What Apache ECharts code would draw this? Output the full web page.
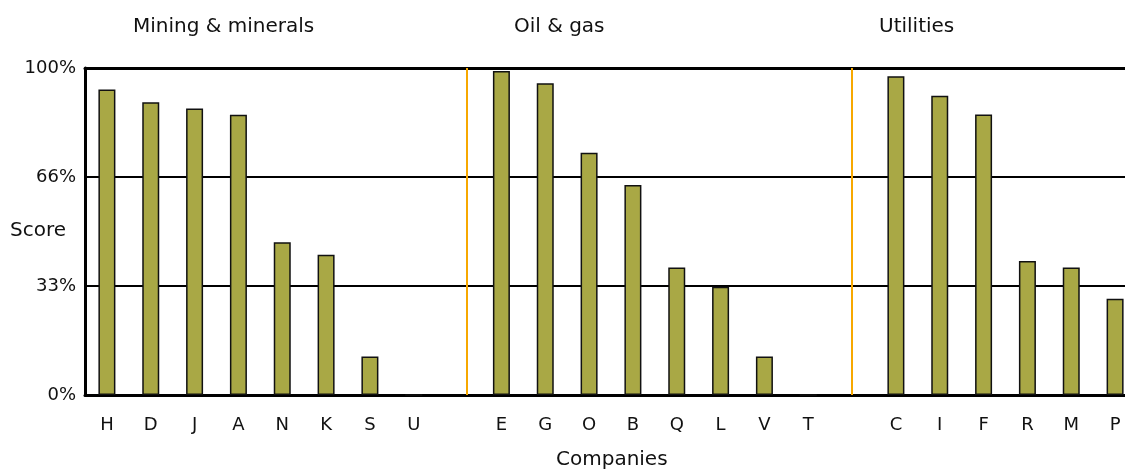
<!DOCTYPE html>
<html>
<head>
<meta charset="utf-8">
<script src="https://cdn.jsdelivr.net/npm/echarts@6/dist/echarts.min.js"></script>
<style>html,body{margin:0;padding:0;background:#fff}#c{width:1125px;height:470px}</style>
</head>
<body>
<div id="c"></div>
<script>
// ---- data ----
var groupNames = ['Mining & minerals', 'Oil & gas', 'Utilities'];
var miningCats = ['H','D','J','A','N','K','S','U'];
var miningVals = [93.4, 89.5, 87.6, 85.7, 46.7, 42.9, 11.8, 0];
var oilCats = ['E','G','O','B','Q','L','V','T'];
var oilVals = [99.1, 95.3, 74.1, 64.2, 39.0, 33.1, 11.8, 0];
var utilCats = ['C','I','F','R','M','P'];
var utilVals = [97.5, 91.5, 85.8, 41.0, 39.0, 29.4];
var yTickLabels = ['0%', '33%', '66%', '100%'];
var separatorPositions = [8.2, 17]; // in category-slot units
var xTitle = 'Companies';
var yTitle = 'Score';

// build category axis with one empty slot between groups
var cats = [], vals = [];
[[miningCats, miningVals], [oilCats, oilVals], [utilCats, utilVals]].forEach(function (g, gi) {
  if (gi > 0) { cats.push(''); vals.push('-'); }
  g[0].forEach(function (c, i) { cats.push(c); vals.push(g[1][i]); });
});

var FONT = 'DejaVu Sans';
var chart = echarts.init(document.getElementById('c'));

chart.setOption({
  animation: false,
  backgroundColor: '#fff',
  textStyle: { fontFamily: FONT },
  grid: { left: 85, top: 68, width: 1052, height: 327, outerBoundsMode: 'none', containLabel: false },
  xAxis: [{
    type: 'category',
    data: cats,
    position: 'bottom',
    axisLine: { lineStyle: { color: '#000', width: 3 } },
    axisTick: { show: false },
    axisLabel: { color: '#111', fontSize: 18, fontFamily: FONT, margin: 21, interval: 0 }
  }, {
    type: 'value',
    position: 'top',
    min: -0.5, max: cats.length - 0.5,
    axisLine: { show: true, onZero: false, lineStyle: { color: '#000', width: 3 } },
    axisTick: { show: false },
    axisLabel: { show: false },
    splitLine: { show: false }
  }],
  yAxis: {
    type: 'value',
    min: 0, max: 100, interval: 100 / 3,
    axisLine: { show: true, onZero: false, lineStyle: { color: '#000', width: 3 } },
    axisTick: { show: false },
    axisLabel: {
      color: '#111', fontSize: 18, fontFamily: FONT, margin: 9, padding: [6, 0, 0, 0],
      formatter: function (v) { return yTickLabels[Math.round(v / (100 / 3))]; }
    },
    splitLine: { show: true, lineStyle: { color: '#000', width: 2 } }
  },
  series: [{
    type: 'bar',
    xAxisIndex: 0,
    data: vals,
    barWidth: 17,
    itemStyle: { color: '#a9a845', borderColor: '#111', borderWidth: 1.5 },
    silent: true
  }, {
    type: 'line',
    xAxisIndex: 1,
    data: [],
    markLine: {
      silent: true,
      symbol: ['none', 'none'],
      label: { show: false },
      lineStyle: { color: '#f7a800', width: 2, type: 'solid' },
      data: separatorPositions.map(function (p) { return { xAxis: p }; })
    }
  }],
  graphic: [
    { type: 'text', x: 133, y: 27, style: { text: groupNames[0], fontSize: 20, fontFamily: FONT, fill: '#111', verticalAlign: 'middle' } },
    { type: 'text', x: 514, y: 27, style: { text: groupNames[1], fontSize: 20, fontFamily: FONT, fill: '#111', verticalAlign: 'middle' } },
    { type: 'text', x: 879, y: 27, style: { text: groupNames[2], fontSize: 20, fontFamily: FONT, fill: '#111', verticalAlign: 'middle' } },
    { type: 'text', x: 10, y: 231, style: { text: yTitle, fontSize: 20, fontFamily: FONT, fill: '#111', verticalAlign: 'middle' } },
    { type: 'text', x: 556, y: 460, style: { text: xTitle, fontSize: 20, fontFamily: FONT, fill: '#111', verticalAlign: 'middle' } }
  ]
});
</script>
</body>
</html>
